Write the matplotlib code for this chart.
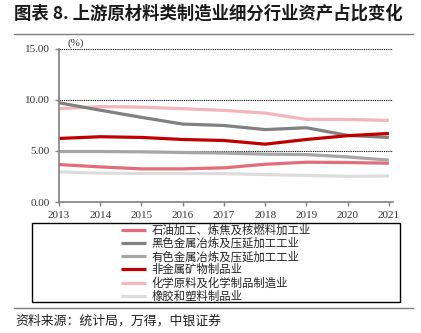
import matplotlib
matplotlib.use('Agg')
import matplotlib.pyplot as plt
from matplotlib.patches import Rectangle

plt.rcParams['font.family'] = ['Noto Sans CJK SC', 'DejaVu Sans']

# data (%)
years = [2013, 2014, 2015, 2016, 2017, 2018, 2019, 2020, 2021]
names = ['石油加工、炼焦及核燃料加工业', '黑色金属冶炼及压延加工工业', '有色金属冶炼及压延加工工业',
         '非金属矿物制品业', '化学原料及化学制品制造业', '橡胶和塑料制品业']
petroleum = [3.67, 3.44, 3.25, 3.25, 3.35, 3.70, 3.90, 3.87, 3.80]
ferrous = [9.73, 9.00, 8.30, 7.64, 7.50, 7.10, 7.28, 6.53, 6.33]
nonferrous = [4.95, 4.95, 4.92, 4.85, 4.80, 4.69, 4.65, 4.42, 4.10]
nonmetal = [6.23, 6.40, 6.33, 6.13, 6.03, 5.67, 6.13, 6.50, 6.72]
chemical = [9.15, 9.35, 9.30, 9.15, 8.98, 8.72, 8.10, 8.10, 8.00]
rubber = [2.95, 2.83, 2.80, 2.80, 2.78, 2.69, 2.60, 2.52, 2.55]
series = [petroleum, ferrous, nonferrous, nonmetal, chemical, rubber]
colors = ['#E46C7A', '#808080', '#A6A6A6', '#C00000', '#F4B6B9', '#DCDCDC']

fig = plt.figure(figsize=(4.21, 3.33), dpi=100)
ax = fig.add_axes([59/421, 1-202/333, 334/421, 153/333])

# draw back to front so the order matches the picture
order = [5, 4, 2, 0, 1, 3]
handles = {}
for i in order:
    ln, = ax.plot(years, series[i], color=colors[i], lw=2.3, label=names[i], solid_capstyle='butt')
    handles[i] = ln

ax.set_xlim(2013, 2021.1)
ax.set_ylim(0, 15)
ax.set_yticks([0, 5, 10, 15])
ax.set_yticklabels(['%.2f' % v for v in [0, 5, 10, 15]])
ax.set_xticks(years)
for y in [5, 10, 15]:
    ax.axhline(y, color='black', lw=0.8, ls=(0, (1, 1)), zorder=0)

for s in ['top', 'right']:
    ax.spines[s].set_visible(False)
for s in ['left', 'bottom']:
    ax.spines[s].set_color('#7f7f7f')
    ax.spines[s].set_linewidth(1.2)
ax.tick_params(axis='both', colors='#7f7f7f', length=3, width=1)
for lab in ax.get_xticklabels() + ax.get_yticklabels():
    lab.set_family('Liberation Serif')
    lab.set_fontsize(8)
    lab.set_color('#333333')
ax.text(0.025, 1.005, '(%)', transform=ax.transAxes, fontsize=8, family='Liberation Serif',
        color='#333333', ha='left', va='bottom')

# title and rules
fig.text(14/421, 1-14/333, '图表 8. 上游原材料类制造业细分行业资产占比变化', fontsize=12.5,
         fontweight='bold', ha='left', va='center', color='#1a1a1a')
fig.add_artist(plt.Line2D([14/421, 413/421], [1-34/333, 1-34/333], color='#7f7f7f', lw=1))
fig.add_artist(plt.Line2D([14/421, 413/421], [1-308/333, 1-308/333], color='#7f7f7f', lw=1))
fig.text(15/421, 1-321/333, '资料来源：统计局，万得，中银证券', fontsize=9.3, ha='left', va='center',
         color='#222222')

# legend box
fig.add_artist(Rectangle((32/421, 1-302/333), 368/421, 79/333, transform=fig.transFigure,
                         fill=False, edgecolor='black', lw=1))
leg = fig.legend([handles[i] for i in range(6)], names, loc='center',
                 bbox_to_anchor=(216/421, 1-263/333), frameon=False, fontsize=8.2,
                 handlelength=2.2, handletextpad=0.5, labelspacing=0.16, borderpad=0)
for t in leg.get_texts():
    t.set_color('#222222')

fig.savefig('out.png', dpi=100)
